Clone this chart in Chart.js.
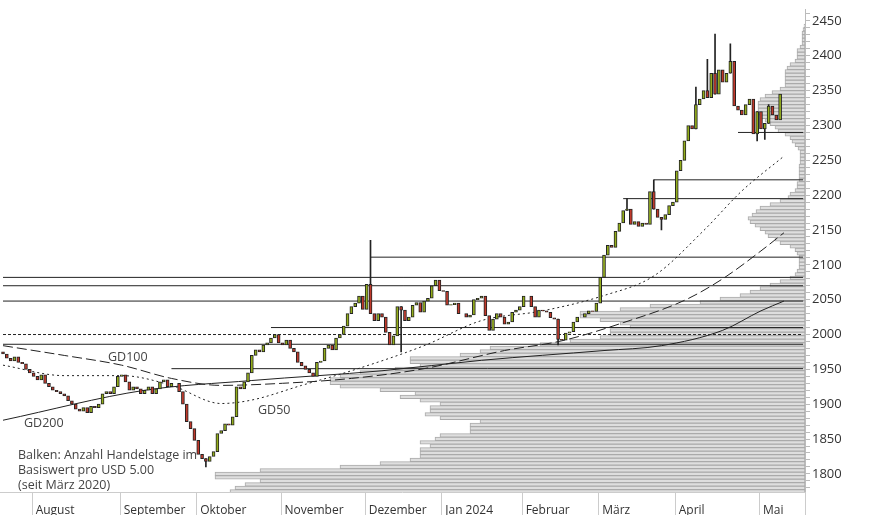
<!DOCTYPE html>
<html>
<head>
<meta charset="utf-8">
<script src="https://cdn.jsdelivr.net/npm/chart.js@4.4.1/dist/chart.umd.min.js"></script>
<style>
  body { margin: 0; background: #fff; }
  #wrap { position: relative; width: 874px; height: 515px; font-family: "Open Sans", sans-serif; }
  canvas { position: absolute; left: 0; top: 0; }
  .lbl { position: absolute; font-size: 12.5px; color: #444; line-height: 15px; }
</style>
</head>
<body>
<div id="wrap">
  <canvas id="profileChart" width="874" height="515"></canvas>
  <canvas id="priceChart" width="874" height="515"></canvas>
  <div class="lbl" style="left:108px;top:349px;">GD100</div>
  <div class="lbl" style="left:24px;top:415px;">GD200</div>
  <div class="lbl" style="left:258px;top:402px;">GD50</div>
  <div class="lbl" style="left:18px;top:447px;">Balken: Anzahl Handelstage im<br>Basiswert pro USD 5.00<br>(seit März 2020)</div>
</div>
<script>
// Schlusskurse (Gold in USD), Ende Juli 2023 bis Mai 2024
var closes = [
  1972,1966,1962,1968,1960,1958,1950,1945,
  1940,1935,1942,1930,1925,1920,1918,1915,1912,1905,1900,1893,1890,1895,1888,1897,1895,1900,1915,1918,1915,1925,1940,
  1942,1932,1920,1925,1922,1915,1920,1925,1915,1922,1932,1935,1925,1930,1930,1918,1900,1875,1865,1848,
  1828,1822,1818,1825,1832,1858,1862,1872,1870,1882,1925,1922,1932,1945,1970,1978,1975,1985,1988,1995,2000,1988,
  1985,1992,1980,1975,1960,1955,1950,1945,1940,1960,1962,1980,1985,1978,1995,2000,2012,2030,2040,2045,2055,2036,
  2072,2030,2020,2030,2025,2003,1985,1998,2040,2035,2020,2025,2042,2046,2032,2048,2052,2070,2078,2063,
  2062,2042,2043,2045,2030,2030,2025,2028,2050,2052,2055,2027,2006,2022,2030,2025,2015,2018,2032,2035,2040,
  2055,2055,2040,2025,2035,2034,2032,2024,2022,1993,1992,2002,2004,2018,2025,2025,2030,2034,2033,2045,
  2082,2114,2128,2125,2148,2160,2178,2180,2158,2162,2155,2160,2158,2205,2180,2168,2165,2172,2185,2190,
  2235,2250,2278,2300,2295,2330,2338,2350,2340,2375,2345,2380,2362,2375,2392,2328,2322,2315,2330,2338,2288,2320,2295,2303,2328,2315,2308,2345
];
var firstOpen = 1975;
// Auffaellige Dochte (Index: Wert)
var highs = { 96: 2135, 163: 2195, 170: 2222, 186: 2431, 190: 2417, 184: 2395, 200: 2330, 181: 2355 };
var lows = { 53: 1810, 104: 1975, 145: 1985, 172: 2150, 197: 2278, 199: 2280 };

var slotCount = 210;
var monthNames = ['August', 'September', 'Oktober', 'November', 'Dezember', 'Jan 2024', 'Februar', 'März', 'April', 'Mai'];
var monthStarts = [8, 31, 51, 73, 95, 115, 136, 156, 176, 198];

// Horizontale Linien: [Kurs, Startindex, gestrichelt]
var levelPrices = [2290, 2222, 2195, 2111, 2082, 2070, 2048, 2010, 2000, 1986, 1951];
var levelStarts = [192, 170, 162, 96, 0, 0, 0, 70, 0, 0, 44];
var levelDashed = [false, false, false, false, false, false, false, false, true, false, false];

// Gleitende Durchschnitte (Index, Wert)
var gd200Idx = [0, 37, 65, 99, 125, 157, 172, 188, 198, 204];
var gd200Val = [1877, 1920, 1934, 1948, 1963, 1977, 1984, 2006, 2034, 2048];
var gd100Idx = [0, 16, 31, 44, 57, 73, 91, 110, 131, 146, 162, 178, 188, 198, 204];
var gd100Val = [1984, 1970, 1956, 1937, 1927, 1930, 1937, 1951, 1977, 1991, 2017, 2049, 2080, 2120, 2146];
var gd50Idx = [0, 16, 31, 44, 57, 65, 78, 91, 110, 125, 141, 157, 170, 183, 193, 204];
var gd50Val = [1956, 1941, 1941, 1927, 1901, 1906, 1927, 1948, 1984, 2020, 2034, 2056, 2084, 2149, 2206, 2256];

// Volumenprofil: Kursstufen und Anzahl Handelstage
var profilePrices = [];
for (var p = 1775; p <= 2440; p += 5) profilePrices.push(p);
var profileDays = [
  575,570,560,545,590,590,545,465,425,395,385,385,385,375,385,370,365,335,335,335,
  325,365,380,375,375,365,385,405,390,425,465,475,475,465,445,410,385,395,395,345,
  325,315,265,235,205,195,195,175,185,205,225,225,185,155,105,85,65,55,45,35,
  25,15,10,8,6,6,6,6,8,10,15,25,30,37,40,45,50,55,57,53,
  49,45,35,25,17,15,10,8,8,6,6,6,6,6,5,5,5,5,7,10,
  13,15,20,27,30,35,40,45,47,47,47,47,45,40,33,25,20,20,20,20,
  20,18,15,10,8,8,8,5,3,3,3,3,2,1
];

var yMin = 1774, yMaxPrice = 2466, yMaxProfile = 2477;
var labels = [];
for (var i = 0; i < slotCount; i++) labels.push(String(i));

var bodies = [], bodyColors = [], wicks = [];
for (var i = 0; i < closes.length; i++) {
  var o = i === 0 ? firstOpen : closes[i - 1];
  var c = closes[i];
  bodies.push([o, c]);
  bodyColors.push(c >= o ? '#93ad1c' : '#c0392b');
  var hi = highs[i] !== undefined ? highs[i] : Math.max(o, c);
  var lo = lows[i] !== undefined ? lows[i] : Math.min(o, c);
  wicks.push(hi > Math.max(o, c) || lo < Math.min(o, c) ? [lo, hi] : null);
}

var datasets = [];
datasets.push({ type: 'bar', data: bodies, backgroundColor: bodyColors, borderColor: '#222', borderWidth: 1,
  borderSkipped: false, barThickness: 3, grouped: false, order: 0 });
datasets.push({ type: 'bar', data: wicks, backgroundColor: '#222', barThickness: 1, grouped: false, order: 1 });

for (var k = 0; k < levelPrices.length; k++) {
  datasets.push({ type: 'line', data: [{ x: String(levelStarts[k]), y: levelPrices[k] }, { x: String(slotCount - 1), y: levelPrices[k] }],
    borderColor: '#222', borderWidth: 1, borderDash: levelDashed[k] ? [3, 2] : [], pointRadius: 0, order: 3 });
}
function maLine(idx, val, dash) {
  var d = idx.map(function (x, j) { return { x: String(x), y: val[j] }; });
  return { type: 'line', data: d, borderColor: '#222', borderWidth: 1, borderDash: dash, pointRadius: 0,
    cubicInterpolationMode: 'monotone', order: 2 };
}
datasets.push(maLine(gd200Idx, gd200Val, []));
datasets.push(maLine(gd100Idx, gd100Val, [10, 4]));
datasets.push(maLine(gd50Idx, gd50Val, [2, 3]));

var monthSeparators = {
  id: 'monthSeparators',
  afterDraw: function (chart) {
    var ctx = chart.ctx, sx = chart.scales.x, top = chart.chartArea.bottom;
    ctx.save();
    ctx.strokeStyle = '#ccc';
    ctx.lineWidth = 1;
    var xs = monthStarts.map(function (m) { return Math.round(sx.getPixelForValue(m) - sx.width / slotCount / 2) + 0.5; });
    xs.push(chart.chartArea.right + 0.5);
    xs.forEach(function (x) { ctx.beginPath(); ctx.moveTo(x, top); ctx.lineTo(x, top + 23); ctx.stroke(); });
    ctx.beginPath(); ctx.moveTo(0, top + 0.5); ctx.lineTo(chart.chartArea.right, top + 0.5); ctx.stroke();
    ctx.restore();
  }
};

new Chart(document.getElementById('priceChart').getContext('2d'), {
  data: { labels: labels, datasets: datasets },
  options: {
    responsive: false, animation: false,
    layout: { padding: 0 },
    plugins: { legend: { display: false }, tooltip: { enabled: false } },
    scales: {
      x: {
        type: 'category', offset: true,
        grid: { display: false }, border: { display: false },
        afterFit: function (s) { s.height = 23; },
        ticks: {
          autoSkip: false, maxRotation: 0, align: 'start', padding: 3,
          font: { family: 'Open Sans', size: 12 }, color: '#333',
          labelOffset: 2,
          callback: function (v, i) { var m = monthStarts.indexOf(i); return m >= 0 ? monthNames[m] : ''; }
        }
      },
      y: {
        position: 'right', min: yMin, max: yMaxPrice,
        afterFit: function (s) { s.width = 69; },
        afterBuildTicks: function (s) {
          var t = [];
          for (var v = 1780; v <= 2460; v += 10) t.push({ value: v });
          s.ticks = t;
        },
        grid: { drawOnChartArea: false, tickLength: 5, color: '#bbb' },
        border: { color: '#bbb' },
        ticks: {
          autoSkip: false,
          font: { family: 'Open Sans', size: 13 }, color: '#333', padding: 2,
          callback: function (v) { return v % 50 === 0 ? String(v) : ''; }
        }
      }
    }
  },
  plugins: [monthSeparators]
});

new Chart(document.getElementById('profileChart').getContext('2d'), {
  type: 'bar',
  data: {
    datasets: [{
      data: profilePrices.map(function (p, j) { return { x: profileDays[j], y: p }; }),
      backgroundColor: '#dedede', borderColor: '#aaa', borderWidth: 1, borderSkipped: false,
      barPercentage: 1, categoryPercentage: 1
    }]
  },
  options: {
    indexAxis: 'y', responsive: false, animation: false,
    layout: { padding: 0 },
    plugins: { legend: { display: false }, tooltip: { enabled: false } },
    scales: {
      x: { type: 'linear', min: 0, max: 805, reverse: true,
        afterFit: function (s) { s.height = 23; },
        grid: { display: false }, border: { display: false }, ticks: { display: false } },
      y: { type: 'linear', position: 'right', min: yMin, max: yMaxProfile, offset: false,
        afterFit: function (s) { s.width = 69; },
        grid: { display: false }, border: { display: false }, ticks: { display: false } }
    }
  }
});
</script>
</body>
</html>
